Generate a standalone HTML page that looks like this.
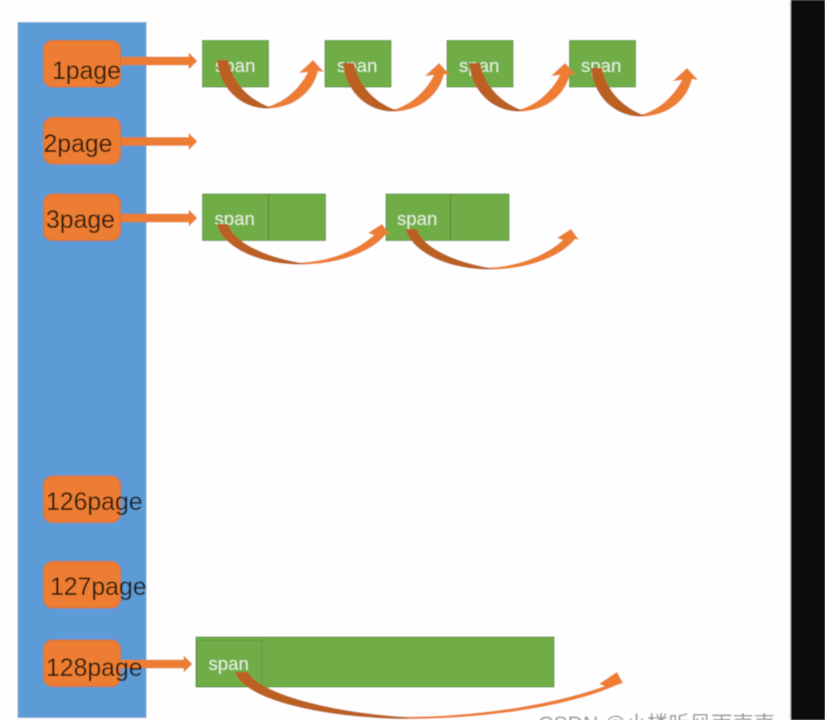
<!DOCTYPE html>
<html lang="en">
<head>
<meta charset="utf-8">
<title>Page and span diagram</title>
<style>
html,body{margin:0;padding:0;background:#fff;width:825px;height:720px;overflow:hidden}
svg{display:block;position:absolute;left:0;top:0}
.p{font:24.8px "Liberation Sans","Noto Sans CJK SC",sans-serif;fill:#1b1208;fill-opacity:.92}
.s{font:18.6px "Liberation Sans",sans-serif;fill:#e4f0dc}
.g{fill:#70ad47;stroke:#5f9a3c;stroke-width:1}
.o{fill:#ed7d31;stroke:#c96f30;stroke-width:1}
.dk{fill:#bb6024}
.or{fill:#ed7d31}
</style>
</head>
<body>
<svg width="825" height="720" viewBox="0 0 825 720" xmlns="http://www.w3.org/2000/svg">
<defs>
<filter id="b" x="-2%" y="-2%" width="104%" height="104%"><feGaussianBlur stdDeviation="0.55"/></filter>
<g id="a1">
<path class="or" d="M46,47.5 C64,45 82,30 91,12 L82,13 L96,0 L107,12 L101,11 C95,36 72,48.5 50,48.5 L46,48.5 Z"/>
<path class="dk" d="M0,0 L11,0 C15,22 32,40 54,47.5 L50,48.5 C25,48.5 3,30 0,0 Z"/>
</g>
<g id="a2">
<path class="or" d="M484,268 C520,267 548,254 563,240 L557,238 L571,229 L579,240 L575,239 C560,258 525,269.5 490,269.5 L484,269.5 Z"/>
<path class="dk" d="M406,229 L417,229 C421,245 450,262 495,268.8 L490,269.5 C445,269.5 410,250 406,229 Z"/>
</g>
<g id="sa"><path class="or" d="M0,-4 L68,-4 L68,-8 L76,0 L68,8 L68,4 L0,4 Z" stroke="#d9772f" stroke-width=".5"/></g>
</defs>
<g filter="url(#b)">
<rect x="0" y="0" width="825" height="720" fill="#fefefe"/>
<rect x="791" y="0" width="34" height="720" fill="#111111"/>
<rect x="790" y="0" width="1" height="720" fill="#bbbbbb"/>

<rect x="18" y="22.5" width="128" height="695" fill="#5b9bd5" stroke="#7ba6cf" stroke-width="1"/>

<rect class="o" x="43.5" y="40.5" width="77" height="46.5" rx="9"/>
<rect class="o" x="43.5" y="117.5" width="77" height="46.5" rx="9"/>
<rect class="o" x="43.5" y="194" width="77" height="46.5" rx="9"/>
<rect class="o" x="43.5" y="476" width="77" height="46.5" rx="9"/>
<rect class="o" x="43.5" y="561.5" width="77" height="46.5" rx="9"/>
<rect class="o" x="43.5" y="640" width="77" height="46.5" rx="9"/>

<rect class="g" x="202.5" y="40.5" width="66" height="46.5"/>
<rect class="g" x="325" y="40.5" width="66" height="46.5"/>
<rect class="g" x="447" y="40.5" width="66" height="46.5"/>
<rect class="g" x="569.5" y="40.5" width="66" height="46.5"/>

<rect class="g" x="202.5" y="194" width="123" height="46.5"/>
<line x1="268.5" y1="194" x2="268.5" y2="240" stroke="#558a38"/>
<rect class="g" x="386" y="194" width="123" height="46.5"/>
<line x1="450.5" y1="194" x2="450.5" y2="240" stroke="#558a38"/>

<rect class="g" x="196" y="637" width="358" height="50"/>
<rect x="197" y="640.5" width="65" height="46" fill="none" stroke="#5f9a3c"/>

<text class="s" x="215" y="72">span</text>
<text class="s" x="337" y="72">span</text>
<text class="s" x="459" y="72">span</text>
<text class="s" x="581" y="72">span</text>
<text class="s" x="214.5" y="225">span</text>
<text class="s" x="397" y="225">span</text>
<text class="s" x="208.5" y="670">span</text>

<use href="#sa" transform="translate(121,61)"/>
<use href="#sa" transform="translate(121,141.5)"/>
<use href="#sa" transform="translate(121,218)"/>
<use href="#sa" transform="translate(116,664)"/>

<text class="p" x="52" y="79">1page</text>
<text class="p" x="43.5" y="152">2page</text>
<text class="p" x="46" y="228">3page</text>
<text class="p" x="46" y="510">126page</text>
<text class="p" x="50" y="595">127page</text>
<text class="p" x="46" y="676">128page</text>

<use href="#a1" transform="translate(217,60)"/>
<use href="#a1" transform="translate(343,63)"/>
<use href="#a1" transform="translate(469,63)"/>
<use href="#a1" transform="translate(591,68)"/>

<use href="#a2" transform="translate(-189,-5)"/>
<use href="#a2"/>

<path class="or" d="M400,717 C480,717 555,704 605,686 L599,684 L617,672 L623,683 L617,685 C565,708 480,719 405,719 Z"/>
<path class="dk" d="M235,672 L248,672 C256,690 320,712 410,717.3 L405,719 C330,718 245,702 235,672 Z"/>

<text x="538" y="731" font-family="'Liberation Sans','Noto Sans CJK SC',sans-serif" font-size="21.3" fill="#999999">CSDN @小楼听风雨声声</text>
</g>
</svg>
</body>
</html>
